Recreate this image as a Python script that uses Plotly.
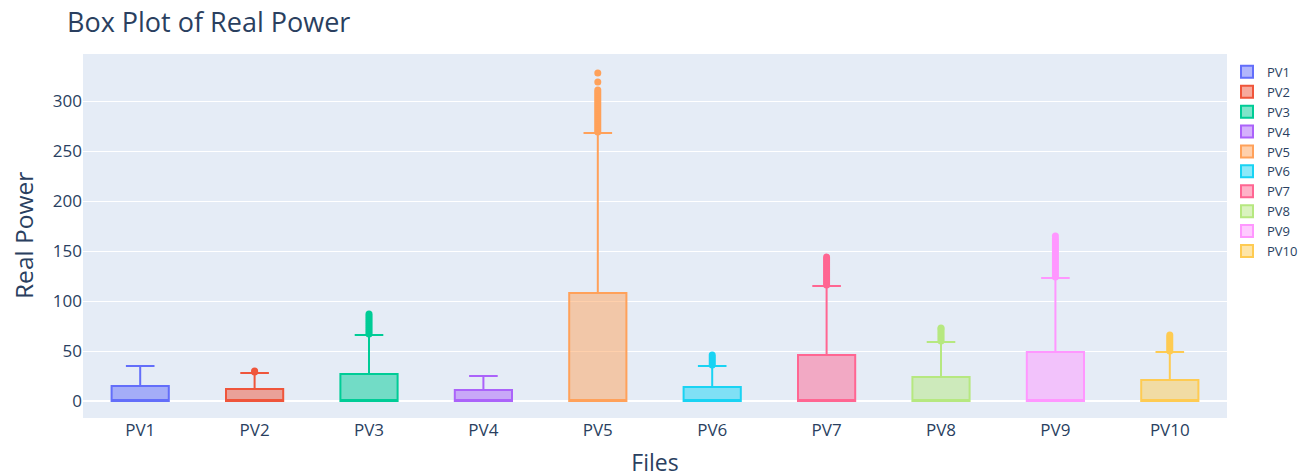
import plotly.graph_objects as go

categories = ["PV1", "PV2", "PV3", "PV4", "PV5", "PV6", "PV7", "PV8", "PV9", "PV10"]
colors = ["#636efa", "#EF553B", "#00cc96", "#ab63fa", "#FFA15A",
          "#19d3f3", "#FF6692", "#B6E880", "#FF97FF", "#FECB52"]

lower_fence = [0, 0, 0, 0, 0, 0, 0, 0, 0, 0]
q1 = [0, 0, 0, 0, 0, 0, 0, 0, 0, 0]
median = [0, 0, 0, 0, 1, 0, 0, 0, 0, 0]
q3 = [15, 12, 27, 11, 108, 14, 46, 24, 49, 21]
upper_fence = [35, 28, 66, 25, 268, 35, 115, 59, 123, 49]

outliers_pv1 = []
outliers_pv2 = [29, 30]
outliers_pv3 = [67, 69, 71, 73, 75, 77, 79, 81, 83, 85, 87]
outliers_pv4 = []
outliers_pv5 = [269, 271, 273, 275, 277, 279, 281, 283, 285, 287, 289, 291,
                293, 295, 297, 299, 301, 303, 305, 307, 309, 311, 319, 328]
outliers_pv6 = [36, 38, 40, 42, 44, 46]
outliers_pv7 = [116, 118, 120, 122, 124, 126, 128, 130, 132, 134, 136, 138,
                140, 142, 144]
outliers_pv8 = [60, 62, 64, 66, 68, 70, 72, 73]
outliers_pv9 = [124, 126, 128, 130, 132, 134, 136, 138, 140, 142, 144, 146,
                148, 150, 152, 154, 156, 158, 160, 162, 165]
outliers_pv10 = [50, 52, 54, 56, 58, 60, 62, 64, 66]
outliers = [outliers_pv1, outliers_pv2, outliers_pv3, outliers_pv4, outliers_pv5,
            outliers_pv6, outliers_pv7, outliers_pv8, outliers_pv9, outliers_pv10]

fig = go.Figure()
for i, name in enumerate(categories):
    fig.add_trace(go.Box(
        name=name,
        x=[name],
        q1=[q1[i]], median=[median[i]], q3=[q3[i]],
        lowerfence=[lower_fence[i]], upperfence=[upper_fence[i]],
        marker_color=colors[i],
        line=dict(color=colors[i], width=2),
        showlegend=True,
    ))
for i, name in enumerate(categories):
    if outliers[i]:
        fig.add_trace(go.Scatter(
            x=[name] * len(outliers[i]), y=outliers[i],
            mode="markers",
            marker=dict(color=colors[i], size=7),
            showlegend=False, hoverinfo="y",
        ))

fig.update_layout(
    template="plotly",
    width=1311, height=475,
    title=dict(text="Box Plot of Real Power", x=0.045, xanchor="left",
               y=0.969, yanchor="middle", automargin=False,
               font=dict(size=27, color="#2a3f5f")),
    margin=dict(l=75, r=92, t=46, b=65, autoexpand=False),
    boxmode="overlay",
    boxgap=0.5,
    boxgroupgap=0,
    xaxis=dict(title=dict(text="Files", font=dict(size=23), standoff=14),
               tickfont=dict(size=17), categoryorder="array", automargin=False,
               categoryarray=categories, range=[-0.5, 9.5]),
    yaxis=dict(tickfont=dict(size=17), range=[-17, 347], automargin=False,
               tickvals=[0, 50, 100, 150, 200, 250, 300]),
    legend=dict(font=dict(size=13), x=1.0, xanchor="left", y=0.992, yanchor="top",
                tracegroupgap=0),
    showlegend=True,
    annotations=[dict(text="Real Power", textangle=-90, xref="paper", yref="paper",
                      x=0, y=0.5, xanchor="center", yanchor="middle",
                      xshift=-60, showarrow=False,
                      font=dict(size=24.5, color="#2a3f5f"))],
)

fig.write_html("out.html")
